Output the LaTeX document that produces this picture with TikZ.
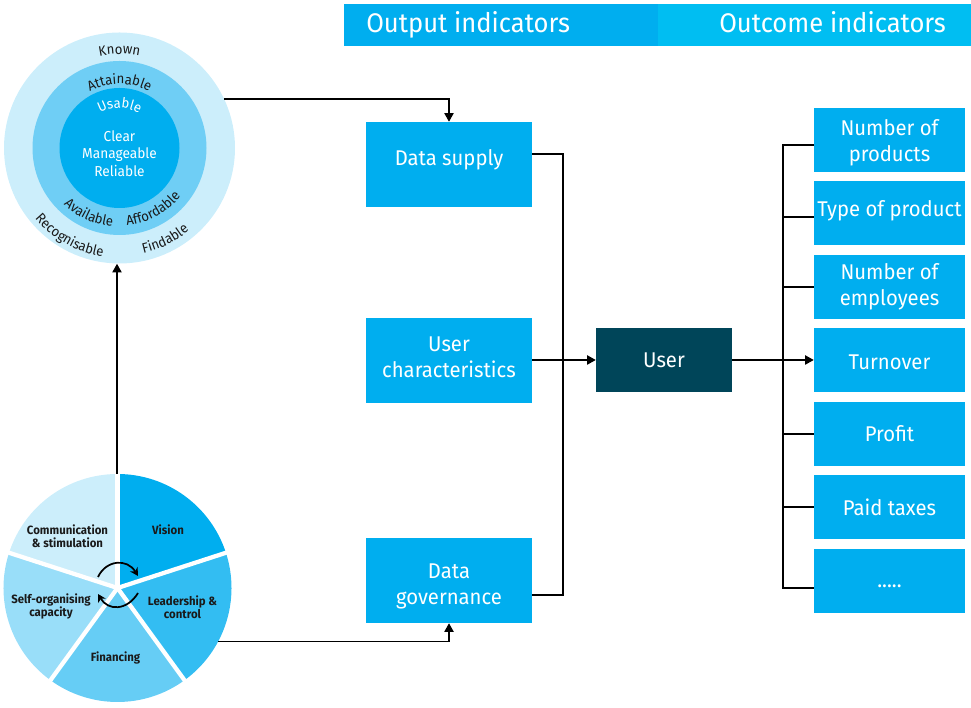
\documentclass[tikz,border=0pt]{standalone}
\usepackage{fontspec}
\setmainfont[FakeStretch=0.95]{Fira Sans}
\usetikzlibrary{decorations.text,arrows.meta}
\definecolor{cA}{HTML}{00AEEF}
\definecolor{cB}{HTML}{33BDF2}
\definecolor{cC}{HTML}{66CDF5}
\definecolor{cD}{HTML}{99DEF9}
\definecolor{cE}{HTML}{CCEEFB}
\definecolor{cRing}{HTML}{6FCEF5}
\definecolor{cHead}{HTML}{00BEF2}
\definecolor{cUser}{HTML}{004559}
\definecolor{cInk}{HTML}{1A1A1A}
\def\u{0.75pt}
\newcommand{\bigf}{\fontsize{16pt}{19.5pt}\selectfont}
\newcommand{\headf}{\fontsize{20.2pt}{24pt}\selectfont}
\newcommand{\ringf}{\fontsize{10.8pt}{13pt}\selectfont}
\newcommand{\arcf}{\fontsize{10.4pt}{13pt}\selectfont}
\newcommand{\pief}{\fontsize{9pt}{9.8pt}\selectfont\bfseries}
\tikzset{
  x=\u,y=\u,
  bluebox/.style={fill=cA,text=white,inner sep=0pt,align=center,font=\bigf},
  sbox/.style={bluebox,minimum width=166*\u,minimum height=85*\u},
  obox/.style={bluebox,minimum width=151*\u,minimum height=64*\u},
  boxlab/.style={text=white,inner sep=0pt,align=center,font=\bigf},
  tx/.style 2 args={label={[boxlab,yshift=#1*\u]center:{#2}}},
  conn/.style={draw=black,line width=1pt},
  tip/.style={-{Triangle[length=6.5pt,width=7pt]}},
  ringtext/.style={font=\ringf,text=white,align=center,inner sep=0pt},
  pietext/.style={font=\pief,text=cInk,align=center,inner sep=0pt},
  blank/.style={circle,inner sep=0pt,minimum size=#1*2*\u}
}
\newcommand{\sector}[2]{\fill[#2] (117.5,119) -- +(#1+72:114) arc[start angle=#1+72,end angle=#1,radius=114] -- cycle;}
\newcommand{\curved}[5]{\path[decorate,decoration={text along path,text align=center,text color=#5,text={|\arcf|#1}}] (119.5,559)++(#2:#4) arc[start angle=#2,end angle=#3,radius=#4];}
\begin{document}
\begin{tikzpicture}
\useasboundingbox (0,0) rectangle (971,707);
% headers
\node[fill=cA,minimum width=314*\u,minimum height=42*\u,inner sep=0pt] (headout) at (501,682) {};
\node[fill=cHead,minimum width=313*\u,minimum height=42*\u,inner sep=0pt] (headin) at (814.5,682) {};
\node[anchor=base west,inner sep=0pt,text=white,font=\headf] (headoutt) at (366,674) {Output indicators};
\node[anchor=base west,inner sep=0pt,text=white,font=\headf] (headint) at (719,674) {Outcome indicators};
% rings
\node[blank=115.5,fill=cE] (ringouter) at (119.5,559) {};
\node[blank=87,fill=cRing] (ringmid) at (119.5,559) {};
\node[blank=60,fill=cA] (ringinner) at (119.5,559) {};
\node[ringtext] (ringcore) at (119.5,553.5) {Clear\\Manageable\\Reliable};
\curved{Known}{130}{50}{94}{cInk}
\curved{Attainable}{145}{35}{64}{cInk}
\curved{Usable}{150}{30}{40}{white}
\curved{Available}{216.5}{273.5}{79}{cInk}
\curved{Affordable}{268.5}{328.5}{78}{cInk}
\curved{Recognisable}{210.5}{270.5}{110}{cInk}
\curved{Findable}{270.5}{322.5}{108}{cInk}
% pie
\sector{18}{cA}
\sector{-54}{cB}
\sector{-126}{cC}
\sector{-198}{cD}
\sector{90}{cE}
\foreach \a in {90,18,-54,-126,162} \draw[white,line width=3.2pt] (117.5,119) -- +(\a:116);
\node[blank=114] (pie) at (117.5,119) {};
\node[pietext] (lvision) at (168,177) {Vision};
\node[pietext] (lcomm) at (67.5,171) {Communication\\\& stimulation};
\node[pietext] (llead) at (182.5,100) {Leadership \&\\control};
\node[pietext] (lfin) at (115.5,49.5) {Financing};
\node[pietext] (lself) at (51,101) {Self-organising\\capacity};
\draw[line width=1.3pt,-{Stealth[length=6pt,width=6.5pt]}] (98,130) .. controls (106,147) and (127,149) .. (138,131);
\draw[line width=1.3pt,-{Stealth[length=6pt,width=6.5pt]}] (138,114) .. controls (127,96) and (108,96) .. (98,113);
% boxes
\node[sbox,tx={5}{Data supply}] (supply) at (449,542.5) {};
\node[sbox,tx={3}{User\\characteristics}] (chars) at (449,346.5) {};
\node[sbox,tx={-6}{Data\\governance}] (gov) at (449,126.5) {};
\node[fill=cUser,text=white,inner sep=0pt,font=\bigf,minimum width=136*\u,minimum height=64*\u] (user) at (664,347) {User};
\node[obox,tx={-3}{Number of\\products}] (o1) at (889.5,567) {};
\node[obox,tx={2}{Type of product}] (o2) at (889.5,494) {};
\node[obox] (o3) at (889.5,420) {Number of\\employees};
\node[obox,tx={-2}{Turnover}] (o4) at (889.5,347) {};
\node[obox] (o5) at (889.5,273) {Profit};
\node[obox] (o6) at (889.5,200) {Paid taxes};
\node[obox,tx={-5}{.....}] (o7) at (889.5,126) {};
% connectors
\draw[conn,tip] (ringouter.25.6) -| (supply.north);
\draw[conn,tip] ([xshift=-0.5*\u]pie.90) -- ([xshift=-2.5*\u]ringouter.south);
\draw[conn,tip] (pie.-28.6) -| (gov.south);
\draw[conn] ([yshift=10.5*\u]supply.east) -| (563,347) |- ([yshift=-14.5*\u]gov.east);
\draw[conn,tip] ([yshift=0.5*\u]chars.east) -- (user.west);
\draw[conn,tip] (user.east) -- (o4.west);
\draw[conn] ([yshift=-5*\u]o1.west) -| (783,347) |- ([yshift=-7*\u]o7.west);
\draw[conn] (783,490) -- ([yshift=-4*\u]o2.west);
\draw[conn] (783,420) -- (o3.west);
\draw[conn] (783,273) -- (o5.west);
\draw[conn] (783,200) -- (o6.west);
\end{tikzpicture}
\end{document}
